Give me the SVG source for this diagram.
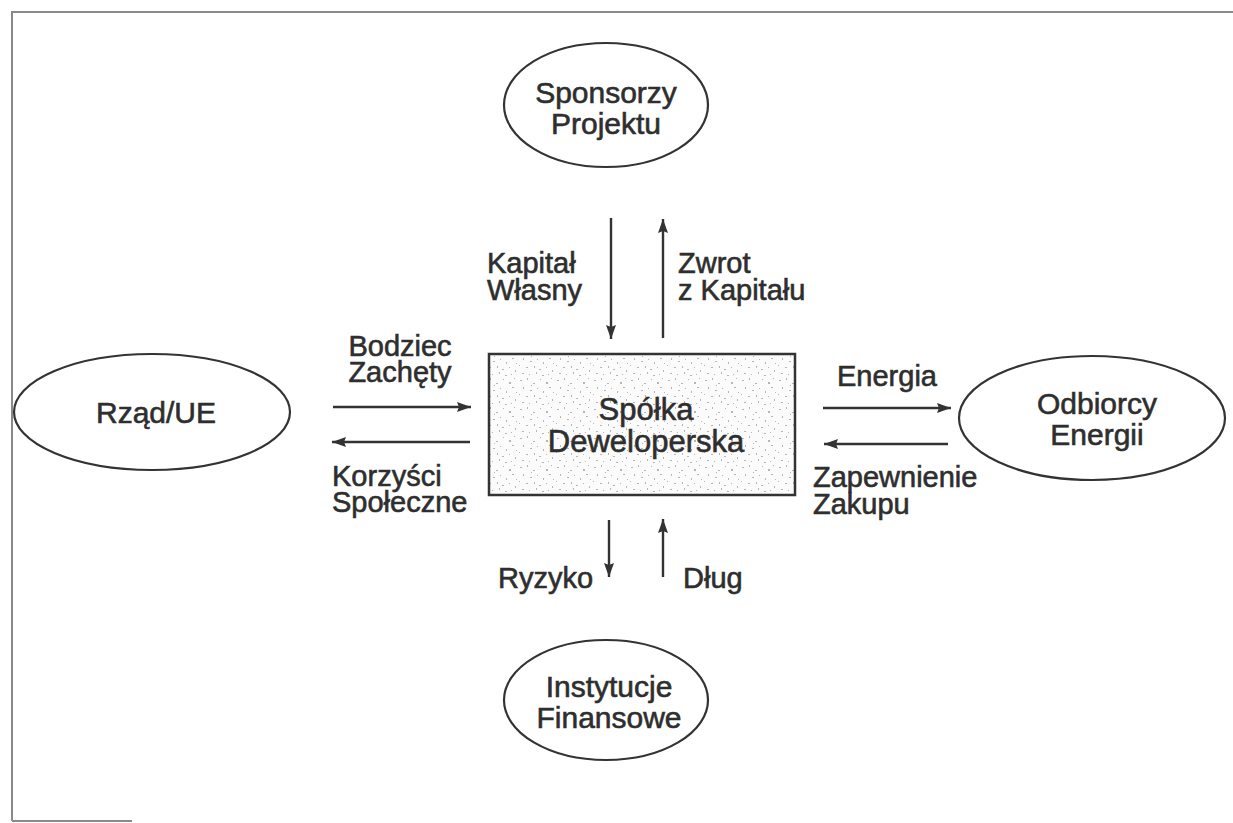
<svg xmlns="http://www.w3.org/2000/svg" width="1233" height="823" viewBox="0 0 1233 823">
<defs>
<style>
.txt{font-family:"Liberation Sans",Arial,sans-serif;font-size:29px;fill:#2e2e2e;stroke:#2e2e2e;stroke-width:0.6}
.node{font-size:30px}
.mid{text-anchor:middle}
.ell{fill:#fff;stroke:#333;stroke-width:2.2}
.conn{stroke:#333;stroke-width:2.4;fill:none;marker-end:url(#ah)}
.frame{stroke:#8a8a8a;stroke-width:2;fill:none}
</style>
<marker id="ah" markerUnits="userSpaceOnUse" markerWidth="15" markerHeight="11" refX="14" refY="5.5" orient="auto">
<path d="M0,0.5 L14,5.5 L0,10.5 L2,5.5 z" fill="#333"/>
</marker>
<pattern id="speck" width="37" height="29" patternUnits="userSpaceOnUse">
<rect width="37" height="29" fill="#fbfbfb"/>
<g fill="#b5b5b5">
<rect x="2" y="3" width="2" height="1"/><rect x="9" y="1" width="1" height="2"/><rect x="15" y="6" width="2" height="1"/>
<rect x="22" y="2" width="1" height="1"/><rect x="28" y="5" width="2" height="2"/><rect x="33" y="1" width="1" height="1"/>
<rect x="5" y="10" width="1" height="2"/><rect x="12" y="13" width="2" height="1"/><rect x="19" y="11" width="1" height="1"/>
<rect x="25" y="14" width="1" height="2"/><rect x="31" y="10" width="2" height="1"/><rect x="1" y="17" width="1" height="1"/>
<rect x="8" y="19" width="2" height="1"/><rect x="16" y="18" width="1" height="2"/><rect x="21" y="21" width="2" height="1"/>
<rect x="28" y="19" width="1" height="1"/><rect x="34" y="22" width="1" height="2"/><rect x="4" y="25" width="2" height="1"/>
<rect x="11" y="26" width="1" height="1"/><rect x="18" y="24" width="1" height="2"/><rect x="24" y="27" width="2" height="1"/>
<rect x="30" y="26" width="1" height="1"/><rect x="13" y="8" width="1" height="1"/><rect x="35" y="15" width="1" height="1"/>
</g>
</pattern>
</defs>
<rect width="1233" height="823" fill="#fff"/>
<g id="frame">
<path class="frame" d="M12,821 L12,12 L1233,12"/>
<path class="frame" d="M12,821 L132,821"/>
</g>
<g id="connectors">
<line class="conn" x1="611" y1="218" x2="611" y2="339"/>
<line class="conn" x1="663" y1="338" x2="663" y2="219"/>
<line class="conn" x1="333" y1="407" x2="471" y2="407"/>
<line class="conn" x1="470" y1="442" x2="332" y2="442"/>
<line class="conn" x1="823" y1="408" x2="951" y2="408"/>
<line class="conn" x1="948" y1="444" x2="824" y2="444"/>
<line class="conn" x1="609" y1="520" x2="609" y2="577"/>
<line class="conn" x1="663" y1="577" x2="663" y2="519"/>
</g>
<g id="labels">
<text class="txt" x="487" y="273">Kapitał</text>
<text class="txt" x="487" y="300">Własny</text>
<text class="txt" x="678" y="273">Zwrot</text>
<text class="txt" x="678" y="300">z Kapitału</text>
<text class="txt mid" x="400" y="356">Bodziec</text>
<text class="txt mid" x="400" y="382">Zachęty</text>
<text class="txt" x="332" y="486">Korzyści</text>
<text class="txt" x="332" y="512">Społeczne</text>
<text class="txt mid" x="887" y="386">Energia</text>
<text class="txt" x="813" y="487">Zapewnienie</text>
<text class="txt" x="813" y="514">Zakupu</text>
<text class="txt" x="498" y="588">Ryzyko</text>
<text class="txt" x="683" y="588">Dług</text>
</g>
<g id="sponsorzy">
<ellipse class="ell" cx="606" cy="105" rx="102" ry="62"/>
<text class="txt node mid" x="606" y="103">Sponsorzy</text>
<text class="txt node mid" x="606" y="134">Projektu</text>
</g>
<g id="rzad">
<ellipse class="ell" cx="152" cy="412" rx="138" ry="58"/>
<text class="txt node mid" x="156" y="423">Rząd/UE</text>
</g>
<g id="odbiorcy">
<ellipse class="ell" cx="1092" cy="418" rx="133" ry="62"/>
<text class="txt node mid" x="1097" y="414">Odbiorcy</text>
<text class="txt node mid" x="1097" y="445">Energii</text>
</g>
<g id="instytucje">
<ellipse class="ell" cx="606" cy="700" rx="102" ry="60"/>
<text class="txt node mid" x="609" y="697">Instytucje</text>
<text class="txt node mid" x="609" y="728">Finansowe</text>
</g>
<g id="spolka">
<rect x="489" y="354" width="306" height="141" fill="url(#speck)" stroke="#333" stroke-width="2.5"/>
<text class="txt node mid" x="646" y="420" style="font-size:31px">Spółka</text>
<text class="txt node mid" x="646" y="452" style="font-size:31px">Deweloperska</text>
</g>
</svg>
